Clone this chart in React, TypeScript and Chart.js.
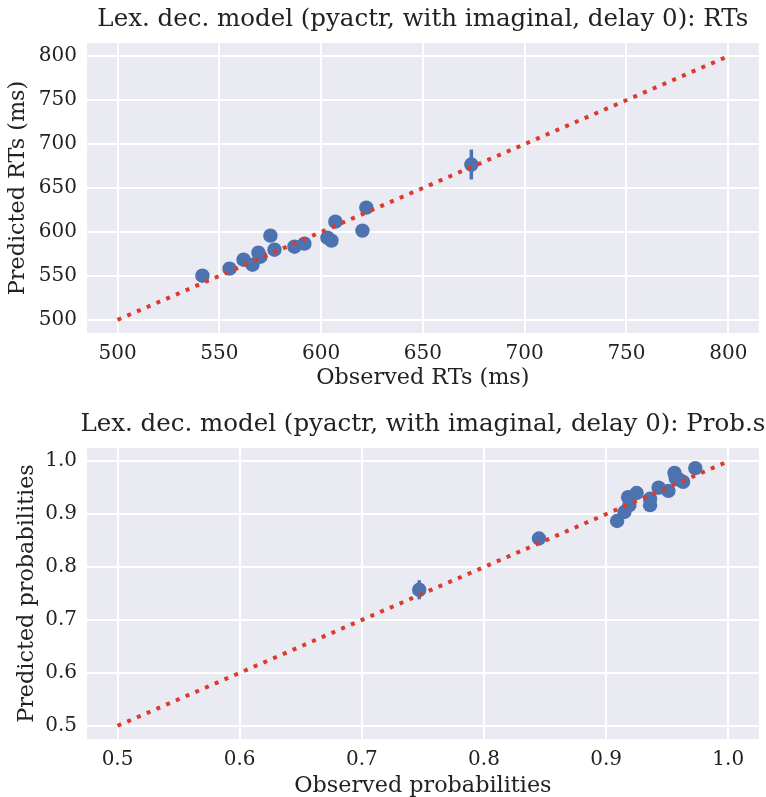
import React, { useEffect, useRef } from "react";
import { Chart, registerables } from "chart.js";

Chart.register(...registerables);

const FONT = "'DejaVu Serif', serif";

// Top chart: RTs
const rtTitle = "Lex. dec. model (pyactr, with imaginal, delay 0): RTs";
const rtObserved = [541.7, 555.0, 561.9, 566.3, 569.2, 570.2, 575.1, 577.1, 586.9, 591.8, 603.1, 605.1, 607.0, 620.3, 622.2, 673.8];
const rtPredicted = [550.2, 558.2, 568.4, 562.7, 576.4, 571.8, 595.8, 579.8, 583.2, 586.7, 593.5, 590.1, 611.7, 601.5, 627.7, 676.7];
const rtError = [3, 3, 3, 3, 3, 3, 3, 3, 3, 3, 3, 3, 3, 3, 3, 17];
const rtTicks = [500, 550, 600, 650, 700, 750, 800];
const rtDiagonal = [500, 800];

// Bottom chart: probabilities
const probTitle = "Lex. dec. model (pyactr, with imaginal, delay 0): Prob.s";
const probObserved = [0.747, 0.845, 0.909, 0.915, 0.918, 0.919, 0.925, 0.936, 0.936, 0.943, 0.951, 0.956, 0.957, 0.963, 0.960, 0.973];
const probPredicted = [0.757, 0.854, 0.887, 0.904, 0.932, 0.917, 0.940, 0.929, 0.917, 0.950, 0.944, 0.978, 0.968, 0.961, 0.965, 0.987];
const probError = [0.018, 0.005, 0.005, 0.005, 0.005, 0.005, 0.005, 0.005, 0.005, 0.005, 0.005, 0.005, 0.005, 0.005, 0.005, 0.005];
const probTicks = [0.5, 0.6, 0.7, 0.8, 0.9, 1.0];
const probDiagonal = [0.5, 1.0];

type Cfg = {
  title: string;
  obs: number[];
  pred: number[];
  err: number[];
  ticks: number[];
  diag: number[];
  min: number;
  max: number;
  decimals: number;
  xLabel: string;
  yLabel: string;
  height: number;
  padTop: number;
  xAxisHeight: number;
  titleY: number;
  yTitlePad: number;
  xTitlePad: number;
};

function ScatterPanel(props: Cfg) {
  const ref = useRef<HTMLCanvasElement | null>(null);
  useEffect(() => {
    const canvas = ref.current;
    if (!canvas) return;
    const p = props;
    const bgPlugin = {
      id: "bg",
      beforeDraw(chart: any) {
        const { ctx, chartArea } = chart;
        ctx.save();
        ctx.fillStyle = "#EAEAF2";
        ctx.fillRect(chartArea.left, chartArea.top, chartArea.right - chartArea.left, chartArea.bottom - chartArea.top);
        ctx.restore();
      },
      afterDraw(chart: any) {
        const { ctx, chartArea } = chart;
        ctx.save();
        ctx.fillStyle = "#222";
        ctx.font = `24.5px ${FONT}`;
        ctx.textAlign = "center";
        ctx.textBaseline = "middle";
        ctx.fillText(p.title, (chartArea.left + chartArea.right) / 2, p.titleY);
        ctx.restore();
      },
    };
    const errPlugin = {
      id: "errbars",
      beforeDatasetsDraw(chart: any) {
        const { ctx, scales } = chart;
        ctx.save();
        ctx.strokeStyle = "#4C72B0";
        ctx.lineWidth = 3.5;
        p.obs.forEach((x, i) => {
          const px = scales.x.getPixelForValue(x);
          const y1 = scales.y.getPixelForValue(p.pred[i] - p.err[i]);
          const y2 = scales.y.getPixelForValue(p.pred[i] + p.err[i]);
          ctx.beginPath();
          ctx.moveTo(px, y1);
          ctx.lineTo(px, y2);
          ctx.stroke();
        });
        ctx.restore();
      },
    };
    const tickCfg = {
      color: "#222",
      font: { family: FONT, size: 20 },
      callback: (v: any) => Number(v).toFixed(p.decimals),
    };
    const chart = new Chart(canvas, {
      type: "scatter",
      data: {
        datasets: [
          {
            type: "line",
            data: p.diag.map((v) => ({ x: v, y: v })),
            borderColor: "#DB3A2D",
            borderWidth: 4,
            borderDash: [4, 6.6],
            pointRadius: 0,
            fill: false,
          } as any,
          {
            data: p.obs.map((x, i) => ({ x, y: p.pred[i] })),
            backgroundColor: "#4C72B0",
            borderColor: "#4C72B0",
            borderWidth: 0,
            pointRadius: 7.2,
          },
        ],
      },
      options: {
        animation: false,
        responsive: false,
        maintainAspectRatio: false,
        layout: { padding: { top: p.padTop, right: 5, left: 0, bottom: 0 } },
        plugins: { legend: { display: false }, tooltip: { enabled: false }, title: { display: false } },
        scales: {
          x: {
            type: "linear",
            min: p.min,
            max: p.max,
            afterBuildTicks: (s: any) => {
              s.ticks = p.ticks.map((v) => ({ value: v }));
            },
            afterFit: (s: any) => {
              s.height = p.xAxisHeight;
            },
            grid: { color: "#FFFFFF", lineWidth: 2, drawTicks: false },
            border: { display: false },
            ticks: { ...tickCfg, padding: 9, maxRotation: 0 },
            title: { display: true, text: p.xLabel, color: "#222", font: { family: FONT, size: 22.3 }, padding: { top: 0, bottom: p.xTitlePad } },
          },
          y: {
            type: "linear",
            min: p.min,
            max: p.max,
            afterBuildTicks: (s: any) => {
              s.ticks = p.ticks.map((v) => ({ value: v }));
            },
            afterFit: (s: any) => {
              s.width = 87;
            },
            grid: { color: "#FFFFFF", lineWidth: 2, drawTicks: false },
            border: { display: false },
            ticks: { ...tickCfg, padding: 10 },
            title: { display: true, text: p.yLabel, color: "#222", font: { family: FONT, size: 22.3 }, padding: { top: p.yTitlePad, bottom: 0 } },
          },
        },
      } as any,
      plugins: [bgPlugin, errPlugin],
    });
    return () => chart.destroy();
  }, []);
  return (
    <canvas ref={ref} width={766} height={props.height} style={{ display: "block", width: 766, height: props.height }} />
  );
}

export default function App() {
  return (
    <div style={{ position: "absolute", left: 0, top: 0, width: 766, height: 797, background: "#fff" }}>
      <ScatterPanel
        title={rtTitle}
        obs={rtObserved}
        pred={rtPredicted}
        err={rtError}
        ticks={rtTicks}
        diag={rtDiagonal}
        min={485}
        max={815}
        decimals={0}
        xLabel="Observed RTs (ms)"
        yLabel="Predicted RTs (ms)"
        height={398}
        padTop={43}
        xAxisHeight={65}
        titleY={20}
        yTitlePad={4.5}
        xTitlePad={6}
      />
      <ScatterPanel
        title={probTitle}
        obs={probObserved}
        pred={probPredicted}
        err={probError}
        ticks={probTicks}
        diag={probDiagonal}
        min={0.475}
        max={1.025}
        decimals={1}
        xLabel="Observed probabilities"
        yLabel="Predicted probabilities"
        height={399}
        padTop={50}
        xAxisHeight={58}
        titleY={27}
        yTitlePad={13.6}
        xTitlePad={-2.4}
      />
    </div>
  );
}
